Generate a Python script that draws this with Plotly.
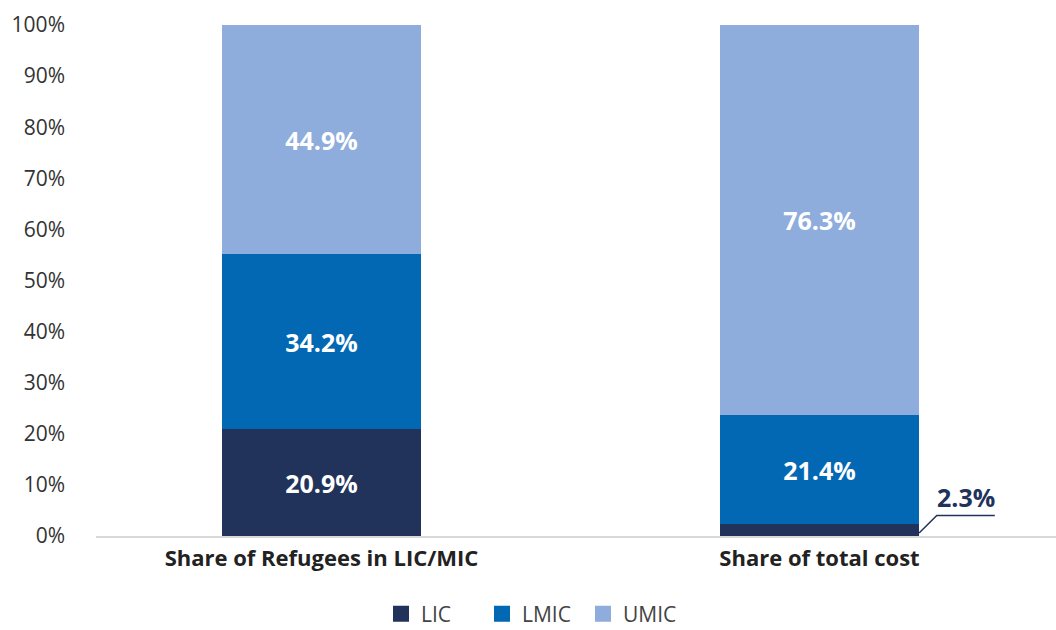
import plotly.graph_objects as go

categories = ["Share of Refugees in LIC/MIC", "Share of total cost"]
series_names = ["LIC", "LMIC", "UMIC"]
lic = [20.9, 2.3]
lmic = [34.2, 21.4]
umic = [44.9, 76.3]
y_ticks = [0, 10, 20, 30, 40, 50, 60, 70, 80, 90, 100]
y_tick_labels = [f"{v}%" for v in y_ticks]

colors = ["#22335B", "#0268B3", "#8EADDD"]
FONT = "Open Sans"

fig = go.Figure()
for name, vals, col in zip(series_names, [lic, lmic, umic], colors):
    txt = [f"{v:.1f}%" if v > 5 else "" for v in vals]
    fig.add_trace(go.Bar(
        x=categories, y=vals, name=name, marker=dict(color=col, line=dict(width=0)),
        width=0.4, text=txt, textposition="inside", insidetextanchor="middle",
        textfont=dict(family=FONT, size=25, color="white", weight="bold"),
        textangle=0, hoverinfo="skip", showlegend=False,
    ))
# legend entries with larger square symbols
for name, col in zip(series_names, colors):
    fig.add_trace(go.Scatter(
        x=[None], y=[None], mode="markers", name=name,
        marker=dict(symbol="square", size=17, color=col), showlegend=True,
    ))

# callout for small LIC value on second bar
small_val = lic[1]
fig.add_shape(type="path", xref="x", yref="y",
              path=f"M 1.2 {small_val/4} L 1.2355 4 L 1.352 4",
              line=dict(color="#22335B", width=1.5))
fig.add_annotation(x=1.2938, y=4.0, xref="x", yref="y", text=f"<b>{small_val:.1f}%</b>",
                   showarrow=False, yanchor="bottom",
                   font=dict(family=FONT, size=25, color="#22335B"))

plot_left, plot_w, plot_bottom, plot_h = 96, 960, 536, 511
legend_x_px, legend_y_px = 381, 614

fig.update_layout(
    barmode="stack",
    width=1056, height=630,
    margin=dict(l=96, r=0, t=25, b=94, autoexpand=False),
    plot_bgcolor="white", paper_bgcolor="white",
    showlegend=True,
    legend=dict(orientation="h",
                x=(legend_x_px - plot_left) / plot_w, xanchor="left",
                y=(plot_bottom - legend_y_px) / plot_h, yanchor="middle",
                font=dict(family=FONT, size=21, color="#444"), itemwidth=30,
                entrywidth=56, entrywidthmode="pixels",
                traceorder="normal"),
)
fig.update_xaxes(range=[-0.4528, 1.4749], showline=True, linecolor="#d9d9d9", linewidth=2,
                 showgrid=False, ticks="", ticklabelstandoff=2,
                 tickfont=dict(family=FONT, size=22, color="#222", weight="bold"))
fig.update_yaxes(range=[0, 100], tickvals=y_ticks, ticktext=y_tick_labels,
                 showgrid=False, zeroline=False, showline=False, ticks="",
                 ticklabelstandoff=30,
                 tickfont=dict(family=FONT, size=21, color="#333"))

fig.write_html("out.html")
